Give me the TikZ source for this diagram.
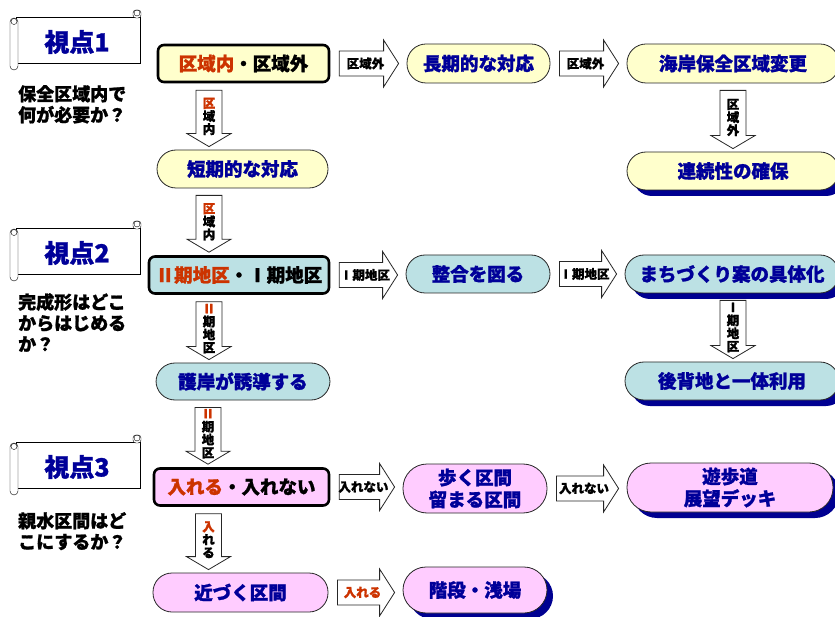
\documentclass[tikz,border=0pt]{standalone}
\usepackage{fontspec}
\setmainfont{Noto Sans CJK JP}[BoldFeatures={FakeBold=1.2}]
\usetikzlibrary{calc,shadows}

\definecolor{boxyellow}{RGB}{255,255,204}
\definecolor{boxblue}{RGB}{188,225,228}
\definecolor{boxpink}{RGB}{255,204,255}
\definecolor{navytext}{RGB}{0,0,153}
\definecolor{rusttext}{RGB}{204,51,0}
\definecolor{shadowblue}{RGB}{0,0,145}

\tikzset{
  keybox/.style={draw, line width=2.6pt, rounded corners=6pt, inner sep=0pt,
    minimum height=37pt, font=\fontsize{18.5pt}{22pt}\selectfont\bfseries},
  pillbox/.style={draw=black!85, line width=0.8pt, rounded corners=19pt, inner sep=0pt,
    minimum height=38pt, text=navytext, align=center,
    font=\fontsize{18.5pt}{22pt}\selectfont\bfseries},
  endbox/.style={pillbox, drop shadow={shadow xshift=6pt, shadow yshift=-6pt,
    fill=shadowblue, opacity=1}},
  blockarrow/.style={draw=black!85, fill=white, line width=0.8pt},
  lbl/.style={inner sep=0pt, font=\fontsize{12.5pt}{13pt}\selectfont\bfseries},
  vlbl/.style={lbl, align=center},
  titletext/.style={text=navytext, font=\fontsize{25pt}{28pt}\selectfont\bfseries},
  asktext/.style={anchor=north west, align=left, inner sep=0pt,
    font=\fontsize{18pt}{21pt}\selectfont\bfseries},
  % wide arrow to the right, between two nodes
  rarrow/.style={to path={let \p1=(\tikztostart.east), \p2=(\tikztotarget.west) in
    (\x1+9pt,\y1+12.5pt) -- (\x2-23pt,\y1+12.5pt) -- (\x2-23pt,\y1+23.5pt)
    -- (\x2-8pt,\y1) -- (\x2-23pt,\y1-23.5pt) -- (\x2-23pt,\y1-12.5pt)
    -- (\x1+9pt,\y1-12.5pt) -- cycle
    (\x1/2+\x2/2-3pt,\y1) node[lbl] {#1}}},
  % wide arrow downwards, #1 = shift from the centre of the upper node
  darrow/.style 2 args={to path={let \p1=(\tikztostart.south), \p2=(\tikztotarget.north) in
    (\x1+#1pt-13pt,\y1-7pt) -- (\x1+#1pt-13pt,\y2+16pt) -- (\x1+#1pt-22pt,\y2+16pt)
    -- (\x1+#1pt,\y2+3pt) -- (\x1+#1pt+22pt,\y2+16pt) -- (\x1+#1pt+13pt,\y2+16pt)
    -- (\x1+#1pt+13pt,\y1-7pt) -- cycle
    (\x1+#1pt,\y1/2+\y2/2) node[vlbl] {#2}}}
}

\newcommand\viewscroll[3]{%
  \begin{scope}[shift={(0,#1)}]
    \fill[black!60] (18,1.2) rectangle (141.2,47.2);
    \draw[fill=white] (16,0) rectangle (140,46);
    \draw[fill=white, rounded corners=4pt] (10,1) rectangle (18,53);
    \draw (14,4.5) circle (3);
    \draw[fill=white, rounded corners=3pt] (133,-7) rectangle (141,1);
    \draw (137,-4) circle (3);
    \node[titletext] (#2) at (77,25) {視点#3};
  \end{scope}}

\begin{document}
\begin{tikzpicture}[x=1pt,y=-1pt]
\useasboundingbox (0,0) rectangle (835,617);

% viewpoints
\viewscroll{17}{v1}{1}
\viewscroll{228}{v2}{2}
\viewscroll{442}{v3}{3}
\node[asktext] (q1) at (18,85) {保全区域内で\\何が必要か？};
\node[asktext] (q2) at (18,293) {完成形はどこ\\からはじめる\\か？};
\node[asktext] (q3) at (18,512) {親水区間はど\\こにするか？};

% viewpoint 1
\node[keybox, fill=boxyellow, minimum width=171pt] (zone) at (243.5,63.5) {{\color{rusttext}区域内}・区域外};
\node[pillbox, fill=boxyellow, minimum width=171pt] (short) at (242.5,169) {短期的な対応};
\node[pillbox, fill=boxyellow, minimum width=143pt, minimum height=39pt] (long) at (478.5,63.5) {長期的な対応};
\node[pillbox, fill=boxyellow, minimum width=212pt, minimum height=39pt] (change) at (733,63.5) {海岸保全区域変更};
\node[endbox, fill=boxyellow, minimum width=212pt] (link) at (733,171) {連続性の確保};

% viewpoint 2
\node[keybox, fill=boxblue, minimum width=180pt] (phase) at (239,275) {{\color{rusttext}Ⅱ期地区}・Ⅰ期地区};
\node[pillbox, fill=boxblue, minimum width=174pt, minimum height=37pt] (revet) at (243,381.5) {護岸が誘導する};
\node[pillbox, fill=boxblue, minimum width=144pt] (adjust) at (478,274) {整合を図る};
\node[endbox, fill=boxblue, minimum width=214pt] (plan) at (732,274) {まちづくり案の具体化};
\node[endbox, fill=boxblue, minimum width=214pt] (hinter) at (732,381) {後背地と一体利用};

% viewpoint 3
\node[keybox, fill=boxpink, minimum width=175pt] (enter) at (241.5,487) {{\color{rusttext}入れる}・入れない};
\node[pillbox, fill=boxpink, minimum width=175pt, minimum height=39pt] (near) at (240.5,592.5) {近づく区間};
\node[pillbox, fill=boxpink, minimum width=144pt, minimum height=49pt, rounded corners=24pt] (walk) at (475,488.5) {歩く区間\\留まる区間};
\node[endbox, fill=boxpink, minimum width=206pt, minimum height=49pt, rounded corners=24pt] (deck) at (730,487.5) {遊歩道\\展望デッキ};
\node[endbox, fill=boxpink, minimum width=144pt, minimum height=46pt, rounded corners=23pt] (steps) at (475,590) {階段・浅場};

% connectors
\draw[blockarrow] (zone) to[rarrow=区域外] (long);
\draw[blockarrow] (long) to[rarrow=区域外] (change);
\draw[blockarrow] (change) to[darrow={0}{区\\域\\外}] (link);
\draw[blockarrow] (zone) to[darrow={-34.5}{\color{rusttext}区\\域\\内}] (short);
\draw[blockarrow] (short) to[darrow={-33.5}{\color{rusttext}区\\域\\内}] (phase);
\draw[blockarrow] (phase) to[rarrow=Ⅰ期地区] (adjust);
\draw[blockarrow] (adjust) to[rarrow=Ⅰ期地区] (plan);
\draw[blockarrow] (plan) to[darrow={1}{Ⅰ\\期\\地\\区}] (hinter);
\draw[blockarrow] (phase) to[darrow={-30}{\color{rusttext}Ⅱ\\期\\地\\区}] (revet);
\draw[blockarrow] (revet) to[darrow={-35}{\color{rusttext}Ⅱ\\期\\地\\区}] (enter);
\draw[blockarrow] (enter) to[rarrow=入れない] (walk);
\draw[blockarrow] (walk) to[rarrow=入れない] (deck);
\draw[blockarrow] (enter) to[darrow={-33}{\color{rusttext}入\\れ\\る}] (near);
\draw[blockarrow] (near) to[rarrow={\color{rusttext}入れる}] (steps);
\end{tikzpicture}
\end{document}
